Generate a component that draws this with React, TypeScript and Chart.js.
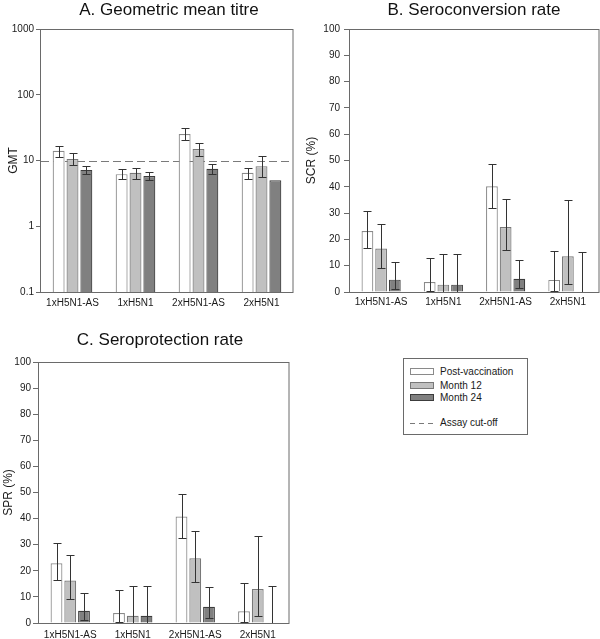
import React, { useEffect, useRef } from 'react';
import { Chart, registerables } from 'chart.js';

Chart.register(...registerables);

// ---------- data ----------
const CATEGORIES = ['1xH5N1-AS', '1xH5N1', '2xH5N1-AS', '2xH5N1'];
const SERIES = ['Post-vaccination', 'Month 12', 'Month 24'];

// A. Geometric mean titre
const GMT_POST = [14.1, 6.2, 25.3, 6.5];
const GMT_POST_LO = [11.5, 5.2, 20.7, 5.2];
const GMT_POST_HI = [16.9, 7.55, 30.8, 7.65];
const GMT_M12 = [10.5, 6.5, 14.9, 8.2];
const GMT_M12_LO = [8.4, 5.3, 11.9, 5.6];
const GMT_M12_HI = [13.0, 7.7, 18.4, 11.7];
const GMT_M24 = [7.2, 5.8, 7.5, 5.0];
const GMT_M24_LO = [6.3, 5.0, 6.3, null];
const GMT_M24_HI = [8.3, 6.6, 8.8, null];
const GMT_TICKS = [0.1, 1, 10, 100, 1000];
const ASSAY_CUTOFF = 10;

// B. Seroconversion rate (%)
const SCR_POST = [23.2, 3.8, 40.2, 4.6];
const SCR_POST_LO = [16.8, 0.4, 32.0, 0.4];
const SCR_POST_HI = [30.8, 12.9, 48.7, 15.6];
const SCR_M12 = [16.5, 2.8, 24.7, 13.6];
const SCR_M12_LO = [9.2, 0, 15.8, 2.9];
const SCR_M12_HI = [26.0, 14.6, 35.5, 35.0];
const SCR_M24 = [4.7, 2.8, 5.0, 0];
const SCR_M24_LO = [1.3, 0, 1.4, 0];
const SCR_M24_HI = [11.5, 14.6, 12.2, 15.3];

// C. Seroprotection rate (%)
const SPR_POST = [22.9, 3.8, 40.8, 4.5];
const SPR_POST_LO = [16.6, 0.5, 32.5, 0.5];
const SPR_POST_HI = [30.6, 12.6, 49.3, 15.5];
const SPR_M12 = [16.3, 2.8, 24.8, 13.0];
const SPR_M12_LO = [9.2, 0, 15.7, 2.8];
const SPR_M12_HI = [25.9, 14.0, 35.4, 33.5];
const SPR_M24 = [4.7, 2.8, 6.2, 0];
const SPR_M24_LO = [1.3, 0, 1.8, 0];
const SPR_M24_HI = [11.5, 14.0, 13.8, 14.0];

// ---------- styles ----------
const FONT = '"Liberation Sans", Arial, Helvetica, sans-serif';
const FILLS = ['#ffffff', '#c0c0c0', '#808080'];
const BORDERS = ['#8a8a8a', '#787878', '#3c3c3c'];
const AXIS_COLOR = '#6a6a6a';
const ERR_COLOR = '#333333';

const errorBarPlugin = {
  id: 'errorBars',
  afterDatasetsDraw(chart: any) {
    const ctx = chart.ctx;
    const ys = chart.scales.y;
    chart.data.datasets.forEach((ds: any, i: number) => {
      const lo = ds.errLo;
      const hi = ds.errHi;
      if (!lo || !hi) return;
      const meta = chart.getDatasetMeta(i);
      meta.data.forEach((el: any, j: number) => {
        if (lo[j] == null || hi[j] == null) return;
        const x = Math.round(el.x) + 0.5;
        const yl = Math.round(ys.getPixelForValue(lo[j])) + 0.5;
        const yh = Math.round(ys.getPixelForValue(hi[j])) + 0.5;
        ctx.save();
        ctx.strokeStyle = ERR_COLOR;
        ctx.lineWidth = 1;
        ctx.beginPath();
        ctx.moveTo(x, yl);
        ctx.lineTo(x, yh);
        ctx.moveTo(x - 4, yh);
        ctx.lineTo(x + 4, yh);
        ctx.moveTo(x - 4, yl);
        ctx.lineTo(x + 4, yl);
        ctx.stroke();
        ctx.restore();
      });
    });
  },
};

const boxPlugin = {
  id: 'plotBox',
  afterDraw(chart: any) {
    const { left, top, right, bottom } = chart.chartArea;
    const ctx = chart.ctx;
    ctx.save();
    ctx.strokeStyle = AXIS_COLOR;
    ctx.lineWidth = 1;
    ctx.strokeRect(Math.round(left) - 0.5, Math.round(top) + 0.5, Math.round(right - left) + 0.5, Math.round(bottom - top));
    ctx.restore();
  },
};

const cutoffPlugin = {
  id: 'cutoffLine',
  beforeDatasetsDraw(chart: any) {
    const v = chart.options.plugins.cutoffLine?.value;
    if (v == null) return;
    const ys = chart.scales.y;
    const y = Math.round(ys.getPixelForValue(v)) + 0.5;
    const { left, right } = chart.chartArea;
    const ctx = chart.ctx;
    ctx.save();
    ctx.strokeStyle = '#7a7a7a';
    ctx.lineWidth = 1;
    ctx.setLineDash([8, 4]);
    ctx.beginPath();
    ctx.moveTo(left, y);
    ctx.lineTo(right, y);
    ctx.stroke();
    ctx.restore();
  },
};

type PanelSpec = {
  values: number[][];
  lows: (number | null)[][];
  highs: (number | null)[][];
  yTitle: string;
  log: boolean;
  yAxisWidth: number;
  xAxisHeight: number;
  padTop: number;
  padRight: number;
  titlePad: number;
  tickLen: number;
  tickPad: number;
  xTickPad: number;
  cutoff?: number;
};

function buildConfig(p: PanelSpec): any {
  const datasets = SERIES.map((name, i) => ({
    type: 'bar',
    label: name,
    data: p.values[i],
    errLo: p.lows[i],
    errHi: p.highs[i],
    backgroundColor: FILLS[i],
    borderColor: BORDERS[i],
    borderWidth: 1.2,
    borderSkipped: 'start',
    categoryPercentage: 0.66,
    barPercentage: 0.86,
  }));
  const yScale: any = p.log
    ? {
        type: 'logarithmic',
        min: GMT_TICKS[0],
        max: GMT_TICKS[GMT_TICKS.length - 1],
        afterBuildTicks: (axis: any) => {
          axis.ticks = GMT_TICKS.map((v) => ({ value: v }));
        },
        ticks: {
          callback: (v: any) => String(v),
          autoSkip: false,
        },
      }
    : {
        type: 'linear',
        min: 0,
        max: 100,
        ticks: { stepSize: 10 },
      };
  Object.assign(yScale, {
    afterFit: (axis: any) => {
      axis.width = p.yAxisWidth;
    },
    grid: {
      display: true,
      drawOnChartArea: false,
      drawTicks: true,
      tickLength: p.tickLen,
      color: AXIS_COLOR,
    },
    border: { display: false },
    title: {
      display: true,
      text: p.yTitle,
      color: '#1a1a1a',
      font: { family: FONT, size: 12 },
      padding: { top: p.titlePad, bottom: 0 },
    },
  });
  yScale.ticks = {
    ...yScale.ticks,
    color: '#1a1a1a',
    font: { family: FONT, size: 10 },
    padding: p.tickPad,
  };
  return {
    type: 'bar',
    data: { labels: CATEGORIES, datasets },
    options: {
      responsive: false,
      animation: false,
      devicePixelRatio: 1,
      layout: { padding: { top: p.padTop, right: p.padRight, left: 0, bottom: 0 } },
      plugins: {
        legend: { display: false },
        title: { display: false },
        tooltip: { enabled: false },
        cutoffLine: { value: p.cutoff },
      },
      scales: {
        x: {
          type: 'category',
          offset: true,
          afterFit: (axis: any) => {
            axis.height = p.xAxisHeight;
          },
          grid: { display: false, drawTicks: false },
          border: { display: false },
          ticks: {
            color: '#1a1a1a',
            font: { family: FONT, size: 10 },
            padding: p.xTickPad,
            maxRotation: 0,
            autoSkip: false,
          },
        },
        y: yScale,
      },
    },
    plugins: [cutoffPlugin, errorBarPlugin, boxPlugin],
  };
}

function Panel({ spec, left, top, width, height }: { spec: PanelSpec; left: number; top: number; width: number; height: number }) {
  const ref = useRef<HTMLCanvasElement | null>(null);
  useEffect(() => {
    if (!ref.current) return;
    const chart = new Chart(ref.current, buildConfig(spec));
    return () => chart.destroy();
  }, []);
  return (
    <canvas
      ref={ref}
      width={width}
      height={height}
      style={{ position: 'absolute', left, top, width, height }}
    />
  );
}

const titleStyle = (left: number, top: number, width: number): React.CSSProperties => ({
  position: 'absolute',
  left,
  top,
  width,
  textAlign: 'center',
  fontFamily: FONT,
  fontSize: 17,
  lineHeight: '17px',
  color: '#111',
  whiteSpace: 'nowrap',
});

const legendText = (top: number): React.CSSProperties => ({
  position: 'absolute',
  left: 440,
  top,
  fontFamily: FONT,
  fontSize: 10,
  lineHeight: '12px',
  color: '#1a1a1a',
  whiteSpace: 'nowrap',
});

const swatch = (top: number, i: number): React.CSSProperties => ({
  position: 'absolute',
  left: 410,
  top,
  width: 24,
  height: 7,
  boxSizing: 'border-box',
  background: FILLS[i],
  border: `1px solid ${BORDERS[i]}`,
});

const dash = (left: number): React.CSSProperties => ({
  position: 'absolute',
  left,
  top: 423,
  width: 5,
  height: 1,
  background: '#7a7a7a',
});

export default function App() {
  const specA: PanelSpec = {
    values: [GMT_POST, GMT_M12, GMT_M24],
    lows: [GMT_POST_LO, GMT_M12_LO, GMT_M24_LO],
    highs: [GMT_POST_HI, GMT_M12_HI, GMT_M24_HI],
    yTitle: 'GMT',
    log: true,
    yAxisWidth: 41,
    xAxisHeight: 26,
    padTop: 29,
    padRight: 7,
    titlePad: 6,
    tickLen: 5,
    tickPad: 2,
    xTickPad: 5,
    cutoff: ASSAY_CUTOFF,
  };
  const specB: PanelSpec = {
    values: [SCR_POST, SCR_M12, SCR_M24],
    lows: [SCR_POST_LO, SCR_M12_LO, SCR_M24_LO],
    highs: [SCR_POST_HI, SCR_M12_HI, SCR_M24_HI],
    yTitle: 'SCR (%)',
    log: false,
    yAxisWidth: 50,
    xAxisHeight: 26,
    padTop: 29,
    padRight: 1,
    titlePad: 4,
    tickLen: 6,
    tickPad: 4,
    xTickPad: 4,
  };
  const specC: PanelSpec = {
    values: [SPR_POST, SPR_M12, SPR_M24],
    lows: [SPR_POST_LO, SPR_M12_LO, SPR_M24_LO],
    highs: [SPR_POST_HI, SPR_M12_HI, SPR_M24_HI],
    yTitle: 'SPR (%)',
    log: false,
    yAxisWidth: 39,
    xAxisHeight: 16,
    padTop: 42,
    padRight: 11,
    titlePad: 1,
    tickLen: 6,
    tickPad: 2,
    xTickPad: 6,
  };
  return (
    <div style={{ position: 'absolute', left: 0, top: 0, width: 600, height: 639, background: '#fff', overflow: 'hidden' }}>
      <Panel spec={specA} left={0} top={0} width={300} height={318} />
      <Panel spec={specB} left={300} top={0} width={300} height={318} />
      <Panel spec={specC} left={0} top={320} width={300} height={319} />
      <div style={titleStyle(69, 1, 200)}>A. Geometric mean titre</div>
      <div style={titleStyle(374, 1, 200)}>B. Seroconversion rate</div>
      <div style={titleStyle(60, 331, 200)}>C. Seroprotection rate</div>
      <div
        style={{
          position: 'absolute',
          left: 403,
          top: 358,
          width: 125,
          height: 77,
          boxSizing: 'border-box',
          border: `1px solid ${AXIS_COLOR}`,
        }}
      />
      <div style={swatch(368, 0)} />
      <div style={swatch(382, 1)} />
      <div style={swatch(394, 2)} />
      <div style={legendText(366)}>{SERIES[0]}</div>
      <div style={legendText(380)}>{SERIES[1]}</div>
      <div style={legendText(392)}>{SERIES[2]}</div>
      <div style={dash(410)} />
      <div style={dash(419)} />
      <div style={dash(428)} />
      <div style={legendText(417)}>Assay cut-off</div>
    </div>
  );
}
